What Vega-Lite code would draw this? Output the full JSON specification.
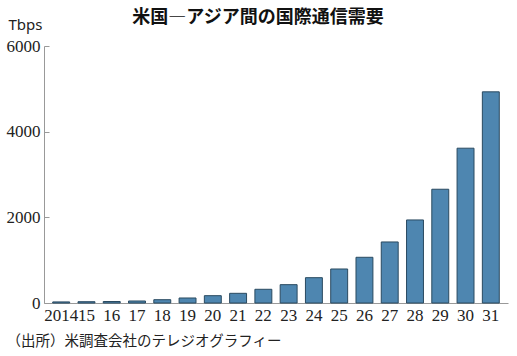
{
  "$schema": "https://vega.github.io/schema/vega-lite/v6.json",
  "autosize": {"type": "none"},
  "padding": {"left": 44, "top": 46, "right": 9, "bottom": 53},
  "width": 464,
  "height": 257,
  "background": "white",
  "title": {
    "text": "米国―アジア間の国際通信需要",
    "font": "Noto Sans CJK JP",
    "fontSize": 18,
    "fontWeight": "bold",
    "color": "#111",
    "anchor": "middle",
    "dx": -18,
    "offset": -10
  },
  "data": {
    "values": [
      {"year": "2014", "value": 25},
      {"year": "15", "value": 30},
      {"year": "16", "value": 35},
      {"year": "17", "value": 47},
      {"year": "18", "value": 77},
      {"year": "19", "value": 117},
      {"year": "20", "value": 171},
      {"year": "21", "value": 226},
      {"year": "22", "value": 320},
      {"year": "23", "value": 428},
      {"year": "24", "value": 591},
      {"year": "25", "value": 794},
      {"year": "26", "value": 1067},
      {"year": "27", "value": 1425},
      {"year": "28", "value": 1939},
      {"year": "29", "value": 2656},
      {"year": "30", "value": 3614},
      {"year": "31", "value": 4930}
    ]
  },
  "mark": {"type": "bar", "color": "#4e86b0", "stroke": "#2a4a60", "strokeWidth": 1},
  "encoding": {
    "x": {
      "field": "year",
      "type": "ordinal",
      "sort": null,
      "scale": {"paddingInner": 0.33, "paddingOuter": 0.345},
      "axis": {
        "title": "（出所）米調査会社のテレジオグラフィー",
        "titleFont": "Noto Sans CJK JP",
        "titleFontSize": 14.5,
        "titleFontWeight": "normal",
        "titleColor": "#222",
        "titleAnchor": "start",
        "titleAlign": "left",
        "titleBaseline": "middle",
        "titleX": -38,
        "titleY": 38,
        "labelAngle": 0,
        "labelFont": "Liberation Sans Narrow",
        "labelFontSize": 17,
        "labelColor": "#222",
        "labelPadding": 4,
        "ticks": false,
        "domainColor": "#999",
        "labelOverlap": false
      }
    },
    "y": {
      "field": "value",
      "type": "quantitative",
      "scale": {"domain": [0, 6000]},
      "axis": {
        "values": [0, 2000, 4000, 6000],
        "format": "d",
        "grid": false,
        "title": "Tbps",
        "titleFont": "Noto Sans",
        "titleFontSize": 15,
        "titleFontWeight": "normal",
        "titleColor": "#222",
        "titleAngle": 0,
        "titleAlign": "left",
        "titleBaseline": "middle",
        "titleX": -36,
        "titleY": -22,
        "labelFont": "Liberation Sans Narrow",
        "labelFontSize": 17,
        "labelColor": "#222",
        "tickSize": -5,
        "tickColor": "#999",
        "labelPadding": 9,
        "domainColor": "#999"
      }
    }
  },
  "config": {"view": {"stroke": null}}
}
